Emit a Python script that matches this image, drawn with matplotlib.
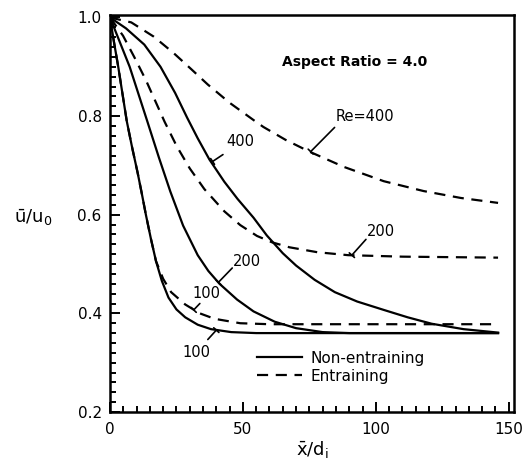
import matplotlib
matplotlib.use("Agg")
import matplotlib.pyplot as plt
from matplotlib.ticker import MultipleLocator, FormatStrFormatter

plt.rcParams['font.family'] = ['DejaVu Sans']
plt.rcParams['mathtext.fontset'] = 'dejavusans'
plt.rcParams['lines.scale_dashes'] = False

# Centre-line velocity decay, aspect ratio 4.0
# Non-entraining jets (solid)
x_ne_100 = [0, 1.5, 3.1, 4.7, 6.3, 8.3, 10.4, 12, 13.5, 15.4, 17.3, 19.5, 22, 25, 28.3, 33, 38, 45.6, 55, 146]
u_ne_100 = [1.0, 0.95, 0.9, 0.845, 0.79, 0.737, 0.685, 0.642, 0.6, 0.551, 0.506, 0.466, 0.432, 0.408,
            0.392, 0.377, 0.368, 0.362, 0.36, 0.36]

x_ne_200 = [0, 7.4, 14, 18.4, 22.7, 27.5, 33, 37, 41.2, 47.8, 54, 62, 70, 80, 90, 146]
u_ne_200 = [1.0, 0.9, 0.79, 0.716, 0.647, 0.578, 0.518, 0.486, 0.46, 0.428, 0.404, 0.383, 0.37,
            0.362, 0.36, 0.36]

x_ne_400 = [0, 6, 12.9, 19, 24.5, 29, 33, 37.4, 43, 48, 54, 59, 65, 70, 77, 84.6, 93, 103, 112,
            121, 133, 146]
u_ne_400 = [1.0, 0.978, 0.945, 0.9, 0.847, 0.797, 0.755, 0.712, 0.667, 0.632, 0.594, 0.558, 0.522,
            0.497, 0.468, 0.443, 0.424, 0.407, 0.392, 0.379, 0.368, 0.361]

# Entraining jets (dashed)
x_en_100 = [0, 1.5, 3.1, 4.7, 6.3, 8.3, 10.4, 12, 13.5, 15.4, 17.3, 20, 23, 28.3, 33.8, 39.3, 49,
            60, 146]
u_en_100 = [1.0, 0.95, 0.9, 0.845, 0.79, 0.737, 0.685, 0.642, 0.6, 0.551, 0.506, 0.47, 0.443,
            0.418, 0.4, 0.389, 0.38, 0.378, 0.378]

x_en_200 = [0, 4.9, 9.2, 13.5, 17, 20.5, 25.1, 30, 35.5, 43, 49, 55.3, 61, 67.5, 78, 89.6, 110, 146]
u_en_200 = [1.0, 0.963, 0.919, 0.873, 0.831, 0.789, 0.739, 0.694, 0.652, 0.607, 0.579, 0.557,
            0.544, 0.534, 0.524, 0.518, 0.515, 0.513]

x_en_400 = [0, 8, 16.5, 23.9, 30.6, 36.8, 45, 54, 57.7, 66, 75, 88, 103, 118, 132, 146]
u_en_400 = [1.0, 0.99, 0.961, 0.928, 0.895, 0.864, 0.827, 0.792, 0.778, 0.752, 0.728, 0.697,
            0.668, 0.648, 0.634, 0.624]

# Curve labels: text, text position, leader start, leader end
labels = ["Re=400", "400", "200", "200", "100", "100"]
label_pos = [(96, 0.80), (49, 0.749), (102, 0.566), (51.5, 0.506), (36.4, 0.44), (32.7, 0.321)]
leader_start = [(84.5, 0.777), (42.5, 0.722), (96.3, 0.55), (46, 0.492), (33.8, 0.42), (36.8, 0.347)]
leader_end = [(75.5, 0.728), (38.6, 0.708), (91, 0.518), (40.8, 0.463), (31.5, 0.407), (40, 0.366)]

fig = plt.figure(figsize=(5.23, 4.63), dpi=100)
ax = fig.add_axes([110 / 523, 51 / 463, 404 / 523, 397 / 463])

lw = 1.6
dash = (8.0, 5.5)
ax.plot(x_ne_100, u_ne_100, color='black', lw=lw, label='Non-entraining')
ax.plot(x_ne_200, u_ne_200, color='black', lw=lw)
ax.plot(x_ne_400, u_ne_400, color='black', lw=lw)
ax.plot(x_en_100, u_en_100, color='black', lw=lw, ls=(0, dash), label='Entraining')
ax.plot(x_en_200, u_en_200, color='black', lw=lw, ls=(0, dash))
ax.plot(x_en_400, u_en_400, color='black', lw=lw, ls=(0, dash))

for txt, pos, p0, p1 in zip(labels, label_pos, leader_start, leader_end):
    ax.text(pos[0], pos[1], txt, ha='center', va='center', fontsize=10.5)
    ax.annotate('', xy=p1, xytext=p0,
                arrowprops=dict(arrowstyle='-[, widthB=0.25, lengthB=0', lw=1.2,
                                color='black', shrinkA=0, shrinkB=0))

ax.text(92, 0.91, 'Aspect Ratio = 4.0', ha='center', va='center',
        fontsize=10, fontweight='bold')

ax.set_xlim(0, 152)
ax.set_ylim(0.2, 1.005)
ax.xaxis.set_major_locator(MultipleLocator(50))
ax.xaxis.set_minor_locator(MultipleLocator(5))
ax.yaxis.set_major_locator(MultipleLocator(0.2))
ax.yaxis.set_minor_locator(MultipleLocator(0.02))
ax.yaxis.set_major_formatter(FormatStrFormatter('%.1f'))
ax.xaxis.set_major_formatter(FormatStrFormatter('%d'))
ax.tick_params(which='both', direction='in', top=False, right=False,
               labelsize=11, width=1.4)
ax.tick_params(which='major', length=7)
ax.tick_params(which='minor', length=4)
ax.tick_params(axis='x', pad=7)
ax.tick_params(axis='y', pad=6)
for s in ax.spines.values():
    s.set_linewidth(1.8)

ax.set_ylabel(r'$\bar{\mathrm{u}}/\mathrm{u}_0$', rotation=0, fontsize=13,
              ha='center', va='center')
ax.yaxis.set_label_coords(-0.19, 0.489)
ax.set_xlabel(r'$\bar{\mathrm{x}}/\mathrm{d}_\mathrm{i}$', fontsize=13,
              ha='center', va='center')
ax.xaxis.set_label_coords(0.5, -0.095)

ax.legend(loc='center left', bbox_to_anchor=(0.365, 0.113), frameon=False,
          fontsize=11, handlelength=2.9, handletextpad=0.6, labelspacing=0.2,
          borderpad=0, borderaxespad=0)

fig.savefig('out.png', dpi=100)
